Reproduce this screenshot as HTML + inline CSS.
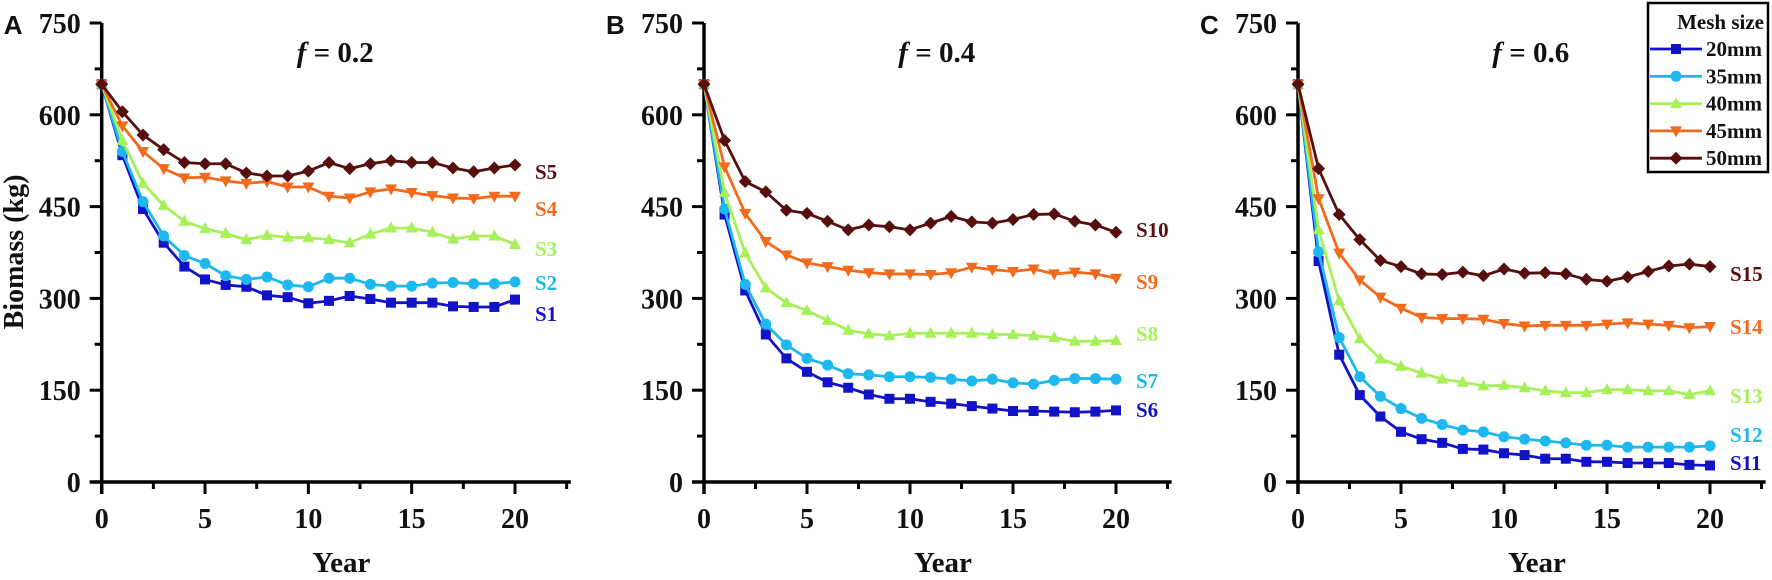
<!DOCTYPE html>
<html><head><meta charset="utf-8">
<style>
html,body{margin:0;padding:0;background:#fff;}
svg{display:block;}
.tk{font-family:"Liberation Serif",serif;font-weight:bold;font-size:28px;fill:#111;}
.ttl{font-family:"Liberation Serif",serif;font-weight:bold;font-size:29px;fill:#111;}
.yttl{font-family:"Liberation Serif",serif;font-weight:bold;font-size:28px;fill:#111;}
.lbl{font-family:"Liberation Serif",serif;font-weight:bold;font-size:21px;}
.pl{font-family:"Liberation Sans",sans-serif;font-weight:bold;font-size:26px;fill:#111;}
.leg{font-family:"Liberation Serif",serif;font-weight:bold;font-size:21px;fill:#111;}
</style></head>
<body>
<svg id="chart" width="1772" height="580" viewBox="0 0 1772 580" xmlns="http://www.w3.org/2000/svg"></svg>
<script>
const years=[0,1,2,3,4,5,6,7,8,9,10,11,12,13,14,15,16,17,18,19,20];
const meshSizes=["20mm","35mm","40mm","45mm","50mm"];
const yTicks=[0,150,300,450,600,750];
const xTicks=[0,5,10,15,20];
const panelTitles=["0.2","0.4","0.6"];
const panelLetters=["A","B","C"];
const labelsA=["S1","S2","S3","S4","S5"];
const labelsB=["S6","S7","S8","S9","S10"];
const labelsC=["S11","S12","S13","S14","S15"];
// Panel A (f=0.2)
const a20=[650,534,446,391,352,331,322,319,305,302,292,296,304,299,293,293,293,287,286,286,298];
const a35=[650,540,458,402,370,357,337,331,335,322,319,333,333,323,320,320,325,326,324,324,327];
const a40=[650,558,488,452,426,414,406,396,403,400,399,396,391,405,415,415,408,397,402,402,388];
const a45=[650,582,540,512,497,498,492,488,491,482,482,467,464,474,479,473,468,464,463,467,467];
const a50=[650,605,567,543,522,520,520,505,500,500,508,522,512,520,525,522,522,513,507,513,518];
// Panel B (f=0.4)
const b20=[650,437,313,241,202,180,163,154,143,136,136,131,128,124,120,116,116,115,114,115,117];
const b35=[650,446,323,258,224,202,191,177,175,172,172,171,168,165,168,162,160,166,169,169,168];
const b40=[650,473,374,317,293,280,264,248,242,239,243,243,243,243,241,241,239,236,230,230,231];
const b45=[650,515,439,393,371,358,352,346,342,340,340,339,342,351,347,344,348,340,343,340,333];
const b50=[650,558,491,474,444,439,426,412,420,417,412,423,434,425,423,429,437,438,426,420,408];
// Panel C (f=0.6)
const c20=[650,361,208,142,107,82,70,64,54,53,47,44,38,38,33,33,31,31,31,28,27];
const c35=[650,376,236,172,140,120,104,94,85,82,74,70,67,64,60,60,57,57,57,57,59];
const c40=[650,412,296,234,201,189,178,168,163,157,158,154,149,146,146,151,151,149,149,143,149];
const c45=[650,463,374,330,302,284,269,267,267,266,259,255,256,256,256,258,260,258,256,252,254];
const c50=[650,512,437,396,362,352,340,339,343,337,348,341,342,340,331,328,335,344,353,356,352];

const colors=["#1212c8","#1cb8ee","#a6f05a","#f26a1c","#560e0e"];
const markers=["square","circle","tri-up","tri-down","diamond"];
const NS="http://www.w3.org/2000/svg";
const svg=document.getElementById('chart');
function mk(tag,attrs,parent){const e=document.createElementNS(NS,tag);for(const k in attrs)e.setAttribute(k,attrs[k]);(parent||svg).appendChild(e);return e;}

function marker(g,type,x,y,c){
  let e;
  if(type==="square") e=mk('rect',{x:x-5,y:y-5,width:10,height:10,fill:c},g);
  else if(type==="circle") e=mk('circle',{cx:x,cy:y,r:5.5,fill:c},g);
  else if(type==="tri-up") e=mk('polygon',{points:`${x-6},${y+4.5} ${x+6},${y+4.5} ${x},${y-6.5}`,fill:c},g);
  else if(type==="tri-down") e=mk('polygon',{points:`${x-6},${y-4.5} ${x+6},${y-4.5} ${x},${y+6.5}`,fill:c},g);
  else e=mk('polygon',{points:`${x},${y-6.5} ${x+6.5},${y} ${x},${y+6.5} ${x-6.5},${y}`,fill:c},g);
  
  
  return e;
}

const Y0=482, PXK=459/750;
function yS(v){return Y0-v*PXK;}

function panel(idx,x0,x20,series,labels,labelYs){
  const xS=v=>x0+(x20-x0)*v/20;
  const g=mk('g',{});
  
  
  const ax=mk('g',{},g);
  
  
  mk('line',{x1:x0,y1:yS(750),x2:x0,y2:Y0+12,stroke:'#000','stroke-width':3.5},ax);
  mk('line',{x1:x0-12,y1:Y0,x2:xS(22.7),y2:Y0,stroke:'#000','stroke-width':3.5},ax);
  for(let v=0;v<=750;v+=75){const maj=v%150===0;mk('line',{x1:x0-(maj?12:7),y1:yS(v),x2:x0,y2:yS(v),stroke:'#000','stroke-width':3},ax);}
  for(let v=0;v<=22.5;v+=2.5){const maj=v%5===0;mk('line',{x1:xS(v),y1:Y0,x2:xS(v),y2:Y0+(maj?12:7),stroke:'#000','stroke-width':3},ax);}
  yTicks.forEach(v=>{const t=mk('text',{x:x0-21,y:yS(v)+10,'text-anchor':'end',class:'tk'},ax);t.textContent=v;
    });
  xTicks.forEach(v=>{const t=mk('text',{x:xS(v),y:528,'text-anchor':'middle',class:'tk'},ax);t.textContent=v;
    });
  const xt=mk('text',{x:xS(11.6),y:572,'text-anchor':'middle',class:'ttl'},ax);xt.textContent='Year';
  
  const tt=mk('text',{x:xS(11.3),y:62,'text-anchor':'middle',class:'ttl'},g);
  tt.innerHTML='<tspan font-style="italic">f</tspan> = '+panelTitles[idx];
  
  const pl=mk('text',{x:x0-98,y:34,class:'pl'},g);pl.textContent=panelLetters[idx];
  
  series.forEach((arr,si)=>{
    const sg=mk('g',{},g);
    
    
    const pts=arr.map((v,i)=>xS(years[i])+','+yS(v)).join(' ');
    const pline=mk('polyline',{points:pts,fill:'none',stroke:colors[si],'stroke-width':2.8,'stroke-linejoin':'round'},sg);
    
    
    arr.forEach((v,i)=>marker(sg,markers[si],xS(years[i]),yS(v),colors[si]));
    const lt=mk('text',{x:xS(20)+20,y:labelYs[si],class:'lbl',fill:colors[si]},sg);lt.textContent=labels[si];
    
  });
}
panel(0,101.7,515,[a20,a35,a40,a45,a50],labelsA,[321,290,256,216,179]);
panel(1,704,1116,[b20,b35,b40,b45,b50],labelsB,[417,388,341,289,237]);
panel(2,1298,1710,[c20,c35,c40,c45,c50],labelsC,[470,442,403,334,281]);

const yt=mk('text',{x:0,y:0,transform:'translate(23,252) rotate(-90)','text-anchor':'middle',class:'yttl'});
yt.textContent='Biomass (kg)';



const lg=mk('g',{});


mk('rect',{x:1648,y:3,width:120,height:169,fill:'#fff',stroke:'#000','stroke-width':2.5},lg);
const lh=mk('text',{x:1764,y:29,'text-anchor':'end',class:'leg'},lg);lh.textContent='Mesh size';

meshSizes.forEach((m,i)=>{
  const ry=49+i*27.3;
  const eg=mk('g',{},lg);
  
  
  mk('line',{x1:1650,y1:ry,x2:1702,y2:ry,stroke:colors[i],'stroke-width':2.8},eg);
  marker(eg,markers[i],1676,ry,colors[i]);
  const t=mk('text',{x:1706,y:ry+7,class:'leg'},eg);t.textContent=m;
});
</script>
</body></html>
